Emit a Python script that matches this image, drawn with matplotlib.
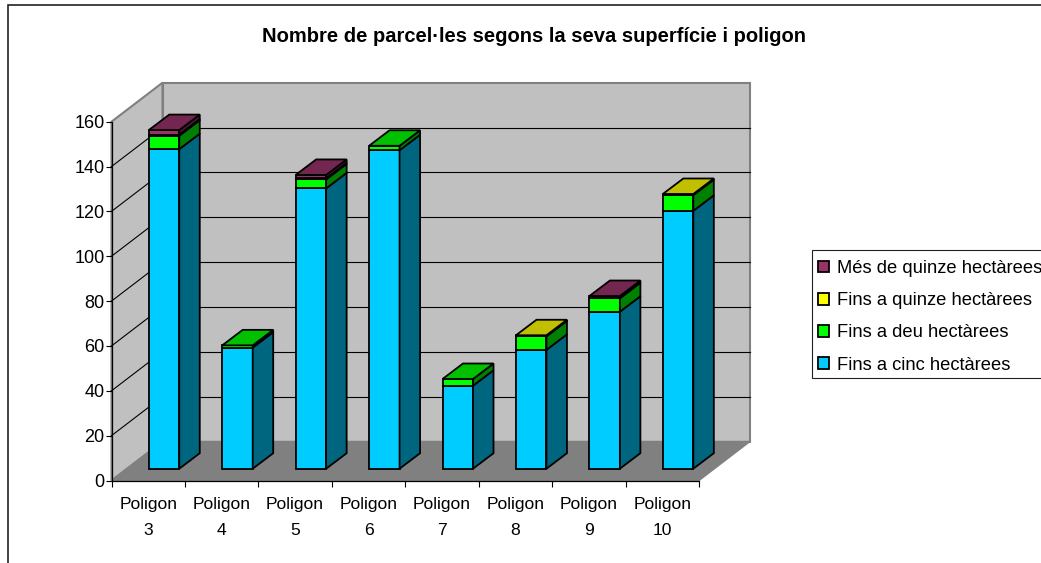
import matplotlib
matplotlib.use("Agg")
import matplotlib.pyplot as plt
from matplotlib.patches import Polygon, Rectangle
from matplotlib.transforms import Affine2D

categories = ["Poligon\n3", "Poligon\n4", "Poligon\n5", "Poligon\n6",
              "Poligon\n7", "Poligon\n8", "Poligon\n9", "Poligon\n10"]
fins_cinc = [142.5, 54, 125, 142, 37, 53, 70, 115]
fins_deu = [6, 1, 4, 2, 3, 6, 6, 7]
fins_quinze = [0.5, 0, 0.5, 0, 0, 0.5, 0, 0.5]
mes_quinze = [2, 0, 1.5, 0, 0, 0, 1, 0]
yticks = [0, 20, 40, 60, 80, 100, 120, 140, 160]

series = [
    ("Fins a cinc hectàrees", fins_cinc, "#00CCFF", "#006680", "#009ABF"),
    ("Fins a deu hectàrees", fins_deu, "#00FF00", "#008000", "#00C000"),
    ("Fins a quinze hectàrees", fins_quinze, "#FFFF00", "#808000", "#C0C000"),
    ("Més de quinze hectàrees", mes_quinze, "#993366", "#4D1A33", "#732650"),
]

W, H = 1041, 563
plt.rcParams["font.family"] = ["Liberation Sans", "DejaVu Sans"]
fig = plt.figure(figsize=(W / 100, H / 100), dpi=100)
ax = fig.add_axes([111.5 / W, 1 - 480.5 / H, 587.5 / W, 358.8 / H])
ax.set_xlim(0, 8)
ax.set_ylim(0, 160)
ax.patch.set_visible(False)


def shifted(dx, dy):
    return ax.transData + Affine2D().translate(dx, dy)


# pixel offsets of the fake 3D depth
back = shifted(51, 39)
bar_t = shifted(15.8, 11.8)
depth = (20.5, 15.5)

# outer chart border runs off the right and bottom of the picture
fig.add_artist(Rectangle((8 / W, 1 - 600 / H), 1100 / W, (600 - 5) / H,
                         transform=fig.transFigure, fill=False,
                         ec="#222222", lw=1.2))

wall = "#C0C0C0"
to_px = ax.transData.transform
px = Affine2D()
p00, p01, p80 = to_px((0, 0)), to_px((0, 160)), to_px((8, 0))
ax.add_patch(Rectangle((0, 0), 8, 160, transform=back, fc=wall, ec="#808080",
                       lw=1.5, clip_on=False, zorder=1))
ax.add_patch(Polygon([p00, p01, p01 + (51, 39), p00 + (51, 39)], transform=px,
                     fc=wall, ec="#808080", lw=1.5, clip_on=False, zorder=1))
ax.add_patch(Polygon([p00, p80, p80 + (51, 39), p00 + (51, 39)], transform=px,
                     fc="#808080", ec="#808080", lw=1, clip_on=False, zorder=2))

for v in yticks[1:-1]:
    ax.plot([0, 8], [v, v], transform=back, color="black", lw=0.8,
            clip_on=False, zorder=3)
    p = to_px((0, v))
    ax.plot([p[0], p[0] + 51], [p[1], p[1] + 39], transform=px, color="black",
            lw=0.8, clip_on=False, zorder=3)

width = 0.415
handles = {}
bottoms = [0] * len(categories)
z = 10
for name, values, front, side, top in series:
    bars = ax.bar([i + 0.5 for i in range(len(values))], values, width,
                  bottom=bottoms, color=front, edgecolor="black", lw=1.3,
                  zorder=z, label=name)
    for b in bars:
        b.set_transform(bar_t)
        b.set_clip_on(False)
    handles[name] = bars
    for i, v in enumerate(values):
        if v == 0:
            continue
        x1 = i + 0.5 + width / 2
        p0 = bar_t.transform((x1, bottoms[i]))
        p1 = bar_t.transform((x1, bottoms[i] + v))
        ax.add_patch(Polygon([p0, p1, p1 + depth, p0 + depth],
                             transform=px, fc=side, ec="black", lw=1.3,
                             clip_on=False, zorder=z))
    bottoms = [b + v for b, v in zip(bottoms, values)]
    z += 1

# top face takes the colour of the highest series present in each column
for i in range(len(categories)):
    for name, values, front, side, top in reversed(series):
        if values[i] > 0:
            x0 = i + 0.5 - width / 2
            x1 = i + 0.5 + width / 2
            p0 = bar_t.transform((x0, bottoms[i]))
            p1 = bar_t.transform((x1, bottoms[i]))
            ax.add_patch(Polygon([p0, p1, p1 + depth, p0 + depth],
                                 transform=px, fc=top, ec="black", lw=1.3,
                                 clip_on=False, zorder=z))
            break

for s in ["top", "right"]:
    ax.spines[s].set_visible(False)
for s in ["left", "bottom"]:
    ax.spines[s].set_linewidth(0.9)
    ax.spines[s].set_zorder(5)
ax.set_yticks(yticks)
ax.set_xticks(range(9))
ax.set_xticklabels([])
ax.set_xticks([i + 0.5 for i in range(8)], minor=True)
ax.set_xticklabels(categories, minor=True, fontsize=12.6, linespacing=1.92)
ax.tick_params(axis="x", which="minor", length=0, pad=12)
ax.tick_params(axis="x", which="major", length=4, width=0.8)
ax.tick_params(axis="y", length=4, width=0.8, labelsize=13, pad=1)

fig.text(534 / W, 1 - 36.5 / H, "Nombre de parcel·les segons la seva superfície i poligon",
         ha="center", va="center", fontsize=14.5, fontweight="bold")

# legend box also runs off the right edge
fig.add_artist(Rectangle((811.5 / W, 1 - 378 / H), 300 / W, 128 / H,
                         transform=fig.transFigure, fc="white", ec="#222222", lw=0.8))
h = [handles[s[0]][0] for s in reversed(series)]
leg = fig.legend(h, [s[0] for s in reversed(series)], loc="upper left",
                 bbox_to_anchor=(818 / W, 1 - 260 / H), fontsize=13.2,
                 frameon=False, handlelength=0.62, handleheight=0.62,
                 handletextpad=0.42, labelspacing=0.83, borderpad=0,
                 borderaxespad=0)
leg.set_zorder(20)

fig.savefig("out.png", dpi=100)
